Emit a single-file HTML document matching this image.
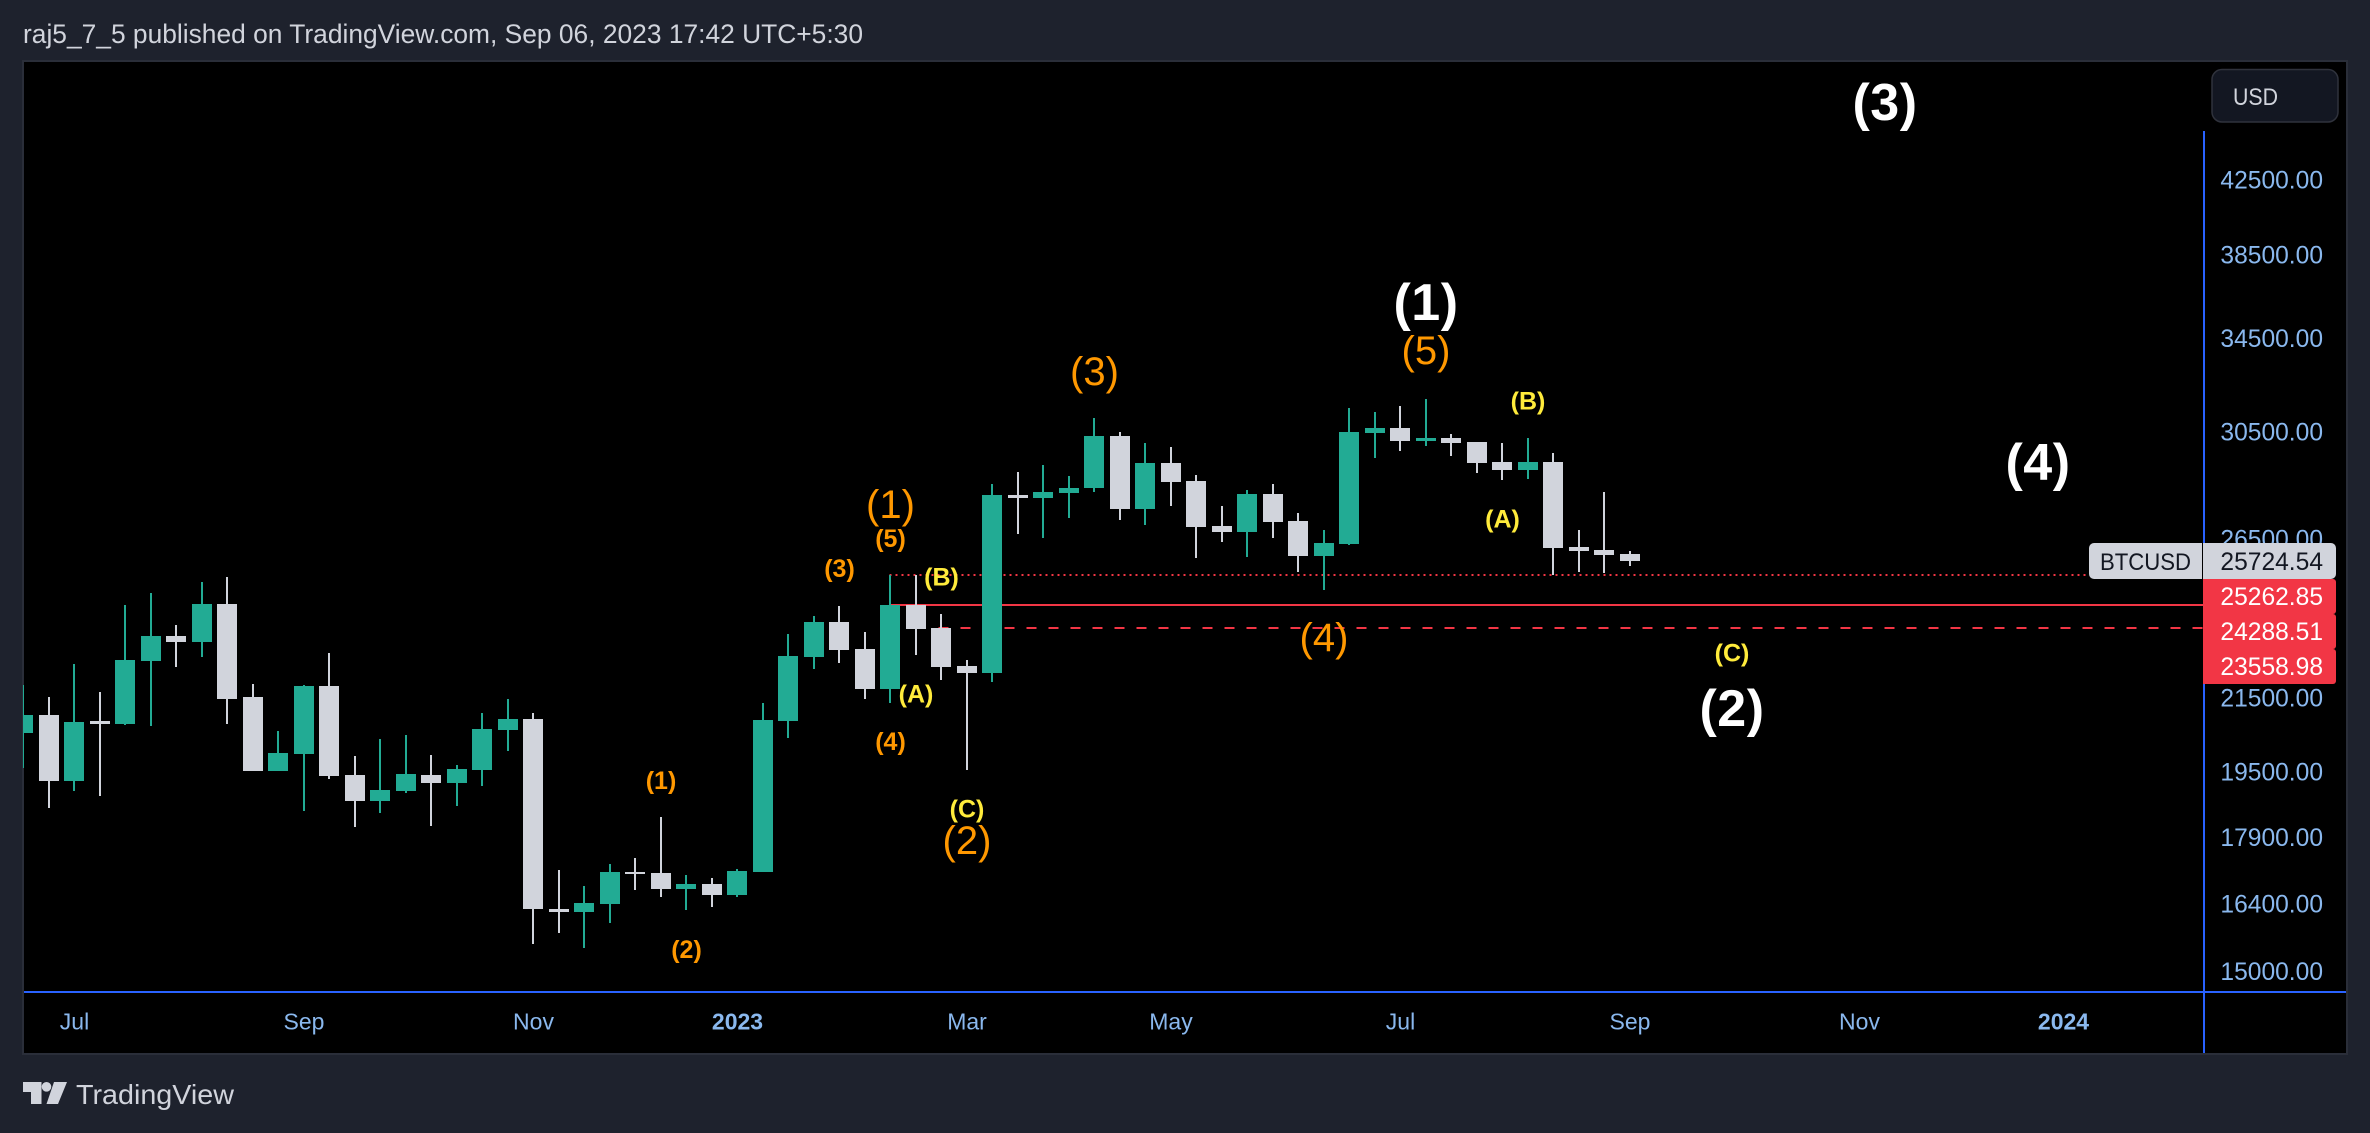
<!DOCTYPE html>
<html lang="en">
<head>
<meta charset="utf-8">
<title>BTCUSD weekly chart</title>
<style>
  html, body { margin: 0; padding: 0; background: #1e222d; width: 2370px; height: 1133px; overflow: hidden; }
  svg { display: block; font-family: "Liberation Sans", sans-serif; }
  .crisp { shape-rendering: crispEdges; }
</style>
</head>
<body>
<svg id="chart" xmlns="http://www.w3.org/2000/svg" width="2370" height="1133" viewBox="0 0 2370 1133">
  <defs>
    <clipPath id="plot-clip"><rect x="23" y="62" width="2323" height="991"/></clipPath>
  </defs>
  <rect x="0" y="0" width="2370" height="1133" fill="#1e222d"/>
  <text x="23" y="43" font-size="26.5" fill="#d1d4dc" textLength="840" lengthAdjust="spacingAndGlyphs">raj5_7_5 published on TradingView.com, Sep 06, 2023 17:42 UTC+5:30</text>
  <rect class="crisp" x="22" y="60" width="2326" height="995" fill="#2a2e39"/>
  <rect class="crisp" x="24" y="62" width="2322" height="991" fill="#000000"/>

  <g id="price-lines"></g>
  <g id="candles" clip-path="url(#plot-clip)"></g>
  <g id="waves"></g>

  <rect class="crisp" x="2203" y="131" width="2" height="922" fill="#2962ff"/>
  <rect class="crisp" x="24" y="991" width="2322" height="2" fill="#2962ff"/>

  <g id="y-ticks"></g>
  <g id="x-ticks"></g>
  <g id="price-tags"></g>

  <g>
    <rect x="2212" y="69.5" width="126" height="52.5" rx="10" ry="10" fill="#131722" stroke="#2f323c" stroke-width="1.5"/>
    <text x="2233" y="105" font-size="24" fill="#d1d4dc" textLength="45" lengthAdjust="spacingAndGlyphs">USD</text>
  </g>

  <g>
    <polygon points="23,1082 41.5,1082 41.5,1104 31,1104 31,1092 23,1092" fill="#d1d4dc"/>
    <circle cx="46.5" cy="1086.8" r="4.8" fill="#d1d4dc"/>
    <polygon points="54,1082 67,1082 58,1104 46.5,1104" fill="#d1d4dc"/>
    <text x="76" y="1104" font-size="28" fill="#d1d4dc" textLength="158" lengthAdjust="spacingAndGlyphs">TradingView</text>
  </g>
</svg>

<script>
// ---- weekly OHLC series (USD), oldest first ----
const opens = [20523,21015,19268,20850,20767,22562,23315,23132,24318,21519,19523,19965,21832,19420,18768,19016,19420,19217,19549,20605,20905,16282,16218,16390,17094,17072,16716,16827,16585,17094,20850,22681,23749,22921,21746,24286,23562,22414,22209,28066,27956,28140,28326,30330,27554,29272,28588,26945,26733,28103,27123,25902,26314,30450,30651,30132,30251,30092,29311,29004,29311,26210,26108,25970];
const highs = [21861,21519,22473,21661,24286,24672,23655,25032,25197,21890,20577,21861,22800,19912,20362,20469,19938,19677,21071,21462,21071,17139,16782,17275,17412,18377,17027,16960,17162,21349,23377,23937,24254,23439,25263,25263,24000,22592,28475,28928,29195,28776,31057,30490,30052,29895,28813,27663,28251,28475,27409,26804,31468,31303,31551,31843,30410,30092,30052,30251,29659,26804,28177,26073];
const lows = [19600,18596,19016,18891,20740,20713,22384,22681,20767,19523,19523,18523,19318,18137,18474,18967,18160,18645,19142,20044,15550,15777,15468,15985,16694,16542,16261,16325,16542,17094,20389,22326,22502,21462,21349,22740,22005,19549,21948,26663,26523,27230,28177,27158,26980,27663,25834,26384,25868,26523,25363,24770,26279,29465,29738,29934,29542,28890,28625,28663,25263,25363,25330,25564];
const closes = [21015,19268,20822,20767,22592,23315,23132,24318,21462,19523,19991,21832,19395,18768,19042,19446,19217,19574,20632,20905,16282,16218,16412,17094,17049,16716,16827,16585,17117,20877,22710,23749,22890,21746,24286,23531,22384,22209,28066,27956,28177,28326,30330,27554,29272,28550,26909,26733,28103,27087,25902,26349,30490,30651,30132,30251,30052,29272,29004,29311,26176,26073,25936,25724.54];

// ---- axis ticks ----
const priceTicks = [42500,38500,34500,30500,26500,21500,19500,17900,16400,15000];
const timeTickLabels = ["Jul","Sep","Nov","2023","Mar","May","Jul","Sep","Nov","2024"];
const timeTickBars = [2,11,20,28,37,45,54,63,72,80];
const yearTickLabels = ["2023","2024"];

// ---- horizontal price levels ----
const seriesName = "BTCUSD";
const levelPrices = [25262.85,24288.51,23558.98];
const levelStartBars = [34,34,36];

// ---- Elliott wave annotations: text, bar index, price ----
const majorWaveTexts = ["(3)","(1)","(4)","(2)"];
const majorWaveBars = [73,55,79,67];
const majorWavePrices = [46933,36080,29233,21154];

const intermediateWaveTexts = ["(1)","(3)","(5)","(4)","(2)"];
const intermediateWaveBars = [34,42,55,51,37];
const intermediateWavePrices = [27663,32950,33872,23224,17783];

const minorWaveTexts = ["(1)","(2)","(3)","(4)","(5)"];
const minorWaveBars = [25,26,32,34,34];
const minorWavePrices = [19268,15428,25463,20282,26488];

const correctiveWaveTexts = ["(A)","(B)","(C)","(A)","(B)","(C)"];
const correctiveWaveBars = [35,36,37,58,59,67];
const correctiveWavePrices = [21604,25197,18571,27194,31759,22800];

// ---- axis functions ----
const BAR_ORIGIN = 23.5, BAR_STEP = 25.5;
const REF_PRICE = 25262.85, REF_Y = 575, PX_PER_LOG = 760.4;
function xOf(bar) { return BAR_ORIGIN + BAR_STEP * bar; }
function yOf(price) { return REF_Y - PX_PER_LOG * Math.log(price / REF_PRICE); }

const NS = "http://www.w3.org/2000/svg";
function make(tag, attrs, parent) {
  const el = document.createElementNS(NS, tag);
  for (const k in attrs) el.setAttribute(k, attrs[k]);
  parent.appendChild(el);
  return el;
}

const UP = "#22ab94", DOWN = "#d1d4dc";
const BODY_W = 20, WICK_W = 2;

// ---- price level lines (behind candles) ----
const linesLayer = document.getElementById("price-lines");
const lineEnds = [2089, 2203, 2203];
const lineStyles = [
  { "stroke-dasharray": "2 4" },
  {},
  { "stroke-dasharray": "10 12" }
];
const lineNames = ["stop-level-dotted-line", "entry-level-solid-line", "target-level-dashed-line"];
levelPrices.forEach(function (price, n) {
  const y = Math.round(yOf(price));
  const start = n === 2 ? xOf(levelStartBars[n]) - 3 : xOf(levelStartBars[n]) - 1;
  const line = make("line", Object.assign({
    x1: start, x2: lineEnds[n], y1: y, y2: y,
    stroke: "#f23645", "stroke-width": 2, class: "crisp"
  }, lineStyles[n]), linesLayer);
  
  
});

// ---- candles ----
const candleLayer = document.getElementById("candles");
opens.forEach(function (open, i) {
  const close = closes[i];
  const color = close >= open ? UP : DOWN;
  const cx = Math.floor(xOf(i));
  const group = make("g", {}, candleLayer);
  
  
  const wickTop = Math.round(yOf(highs[i]));
  const wickBottom = Math.round(yOf(lows[i]));
  const wick = make("rect", {
    x: cx - WICK_W / 2, y: wickTop, width: WICK_W,
    height: Math.max(wickBottom - wickTop, 1), fill: color, class: "crisp"
  }, group);
  
  
  const bodyTop = Math.round(yOf(Math.max(open, close)));
  const bodyBottom = Math.round(yOf(Math.min(open, close)));
  const body = make("rect", {
    x: cx - BODY_W / 2, y: bodyTop, width: BODY_W,
    height: Math.max(bodyBottom - bodyTop, 1), fill: color, class: "crisp"
  }, group);
  
  
});

// ---- wave labels ----
const waveLayer = document.getElementById("waves");
function drawWaves(texts, bars, prices, fill, size, weight, spacing, name, lift) {
  texts.forEach(function (label, n) {
    const t = make("text", {
      x: xOf(bars[n]), y: yOf(prices[n]) + size * lift,
      "text-anchor": "middle", fill: fill, "font-size": size,
      "font-weight": weight, "letter-spacing": spacing
    }, waveLayer);
    t.textContent = label;
    
    
  });
}
drawWaves(majorWaveTexts, majorWaveBars, majorWavePrices, "#ffffff", 52, "bold", 0.5, "major-wave-label", 0.31);
drawWaves(intermediateWaveTexts, intermediateWaveBars, intermediateWavePrices, "#ff9800", 40, "normal", 0, "intermediate-wave-label", 0.30);
drawWaves(minorWaveTexts, minorWaveBars, minorWavePrices, "#ff9800", 25, "bold", 0, "minor-wave-label", 0.32);
drawWaves(correctiveWaveTexts, correctiveWaveBars, correctiveWavePrices, "#ffeb3b", 25, "bold", 0, "corrective-wave-label", 0.34);

// ---- price axis ticks ----
const TICK_COLOR = "#8ab8ee";
const yTickLayer = document.getElementById("y-ticks");
priceTicks.forEach(function (price) {
  const t = make("text", {
    x: 2323, y: yOf(price) + 8.8, "text-anchor": "end",
    "font-size": 24.6, fill: TICK_COLOR
  }, yTickLayer);
  t.textContent = price.toFixed(2);
  
  
});

// ---- time axis ticks ----
const xTickLayer = document.getElementById("x-ticks");
timeTickLabels.forEach(function (label, n) {
  const isYear = yearTickLabels.indexOf(label) >= 0;
  const t = make("text", {
    x: xOf(timeTickBars[n]), y: 1029.5, "text-anchor": "middle",
    "font-size": 23, fill: TICK_COLOR, "font-weight": isYear ? "bold" : "normal"
  }, xTickLayer);
  t.textContent = label;
  
  
});

// ---- price tags: stacked under the last-price tag ----
const tagLayer = document.getElementById("price-tags");
const TAG_H = 36, STACK_H = 35, TAG_LEFT = 2203, TAG_RIGHT = 2336, NAME_LEFT = 2089, NAME_RIGHT = 2202;
function rightRounded(x1, x2, y1, y2, r) {
  return "M" + x1 + " " + y1 + "H" + (x2 - r) + "A" + r + " " + r + " 0 0 1 " + x2 + " " + (y1 + r) +
         "V" + (y2 - r) + "A" + r + " " + r + " 0 0 1 " + (x2 - r) + " " + y2 + "H" + x1 + "Z";
}
function leftRounded(x1, x2, y1, y2, r) {
  return "M" + x2 + " " + y1 + "H" + (x1 + r) + "A" + r + " " + r + " 0 0 0 " + x1 + " " + (y1 + r) +
         "V" + (y2 - r) + "A" + r + " " + r + " 0 0 0 " + (x1 + r) + " " + y2 + "H" + x2 + "Z";
}
const lastClose = closes[closes.length - 1];
const lastTop = Math.round(yOf(lastClose)) - 18;
const nameBox = make("path", { d: leftRounded(NAME_LEFT, NAME_RIGHT, lastTop, lastTop + TAG_H, 5), fill: DOWN }, tagLayer);


const nameText = make("text", { x: 2100, y: lastTop + 27, "font-size": 24, fill: "#131722", textLength: 91, lengthAdjust: "spacingAndGlyphs" }, tagLayer);
nameText.textContent = seriesName;


const lastBox = make("path", { d: rightRounded(TAG_LEFT, TAG_RIGHT, lastTop, lastTop + TAG_H, 5), fill: DOWN }, tagLayer);


const lastText = make("text", { x: 2323, y: lastTop + 27, "text-anchor": "end", "font-size": 24.6, fill: "#131722" }, tagLayer);
lastText.textContent = lastClose.toFixed(2);


levelPrices.forEach(function (price, n) {
  const top = lastTop + TAG_H + STACK_H * n;
  const box = make("path", { d: rightRounded(TAG_LEFT, TAG_RIGHT, top, top + STACK_H, 3), fill: "#f23645" }, tagLayer);
  
  
  const t = make("text", { x: 2323, y: top + 26, "text-anchor": "end", "font-size": 24.6, fill: "#ffffff" }, tagLayer);
  t.textContent = price.toFixed(2);
  
  
});
</script>
</body>
</html>
